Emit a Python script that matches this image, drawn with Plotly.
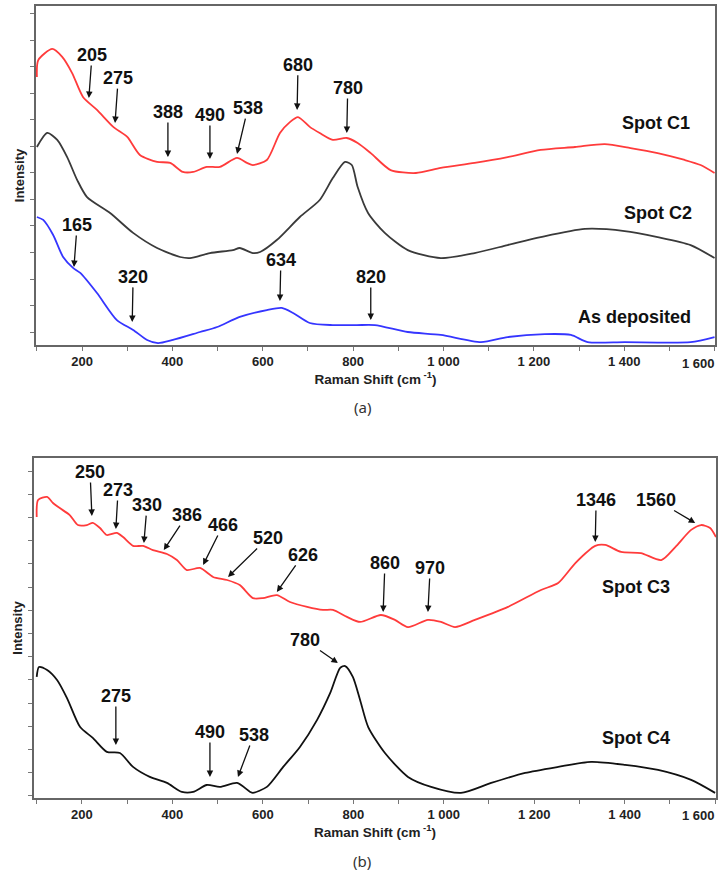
import plotly.graph_objects as go

# ---------------- Panel (a) data ----------------
c1_x = [100, 103, 134, 156, 178, 202, 233, 269, 300, 328, 366, 395, 423, 446, 476, 505, 543, 565, 578, 609,
        638, 660, 678, 704, 726, 755, 786, 810, 839, 883, 939, 994, 1069, 1142, 1215, 1291, 1357, 1414,
        1474, 1534, 1569, 1600]
c1_y = [9.62, 10.26, 10.68, 10.38, 9.77, 8.87, 8.38, 7.74, 7.36, 6.68, 6.42, 6.38, 6.04, 6.04, 6.23, 6.23,
        6.57, 6.38, 6.30, 6.49, 7.51, 7.92, 8.11, 7.74, 7.51, 7.25, 7.32, 7.13, 6.75, 6.11, 6.00, 6.19,
        6.38, 6.60, 6.87, 6.98, 7.09, 6.94, 6.75, 6.49, 6.30, 6.00]

c2_x = [100, 123, 145, 167, 189, 211, 262, 313, 366, 417, 439, 483, 534, 549, 578, 594, 631, 682, 726, 755,
        782, 797, 810, 833, 870, 921, 994, 1069, 1142, 1215, 1313, 1401, 1474, 1547, 1600]
c2_y = [6.98, 7.51, 7.25, 6.60, 5.74, 5.09, 4.49, 3.74, 3.17, 2.83, 2.79, 2.98, 3.09, 3.17, 2.98, 3.02,
        3.47, 4.34, 4.98, 5.81, 6.42, 6.30, 5.47, 4.49, 3.74, 3.09, 2.79, 2.98, 3.28, 3.58, 3.89, 3.81,
        3.58, 3.28, 2.79]

dep_x = [100, 114, 136, 158, 180, 196, 233, 277, 313, 344, 368, 401, 461, 499, 549, 609, 642, 667, 704, 755,
         808, 848, 921, 994, 1083, 1142, 1224, 1282, 1319, 1401, 1547, 1600]
dep_y = [4.34, 4.23, 3.66, 2.83, 2.42, 2.23, 1.47, 0.45, 0.08, -0.30, -0.42, -0.30, 0.00, 0.19, 0.57, 0.83,
         0.91, 0.72, 0.34, 0.26, 0.26, 0.26, 0.00, -0.11, -0.38, -0.19, -0.08, -0.11, -0.38, -0.38, -0.38,
         -0.19]

# ---------------- Panel (b) data ----------------
c3_x = [100, 103, 123, 136, 151, 173, 191, 211, 224, 240, 255, 277, 291, 313, 335, 357, 388, 410, 432, 461,
        490, 521, 549, 578, 600, 631, 660, 698, 733, 755, 786, 815, 861, 892, 921, 965, 994, 1025, 1069,
        1142, 1215, 1253, 1291, 1335, 1357, 1392, 1436, 1481, 1512, 1547, 1569, 1589, 1602]
c3_y = [12.03, 12.76, 12.89, 12.63, 12.41, 12.11, 11.68, 11.68, 11.77, 11.55, 11.25, 11.34, 11.16, 10.78,
        10.78, 10.60, 10.43, 10.17, 9.74, 9.83, 9.44, 9.31, 9.09, 8.53, 8.53, 8.66, 8.36, 8.15, 8.02, 8.02,
        7.72, 7.50, 7.80, 7.59, 7.28, 7.59, 7.50, 7.28, 7.59, 8.15, 8.88, 9.18, 10.04, 10.78, 10.82, 10.52,
        10.47, 10.17, 10.73, 11.47, 11.68, 11.55, 11.16]

c4_x = [100, 105, 123, 145, 167, 196, 224, 255, 284, 313, 350, 388, 421, 446, 476, 505, 543, 572, 578, 609,
        645, 682, 720, 749, 771, 782, 799, 815, 833, 870, 921, 972, 1038, 1105, 1180, 1253, 1326, 1401,
        1474, 1547, 1600]
c4_y = [5.13, 5.56, 5.43, 5.00, 4.22, 2.97, 2.50, 1.90, 1.85, 1.25, 0.82, 0.56, 0.17, 0.17, 0.47, 0.39, 0.56,
        0.17, 0.13, 0.39, 1.25, 2.11, 3.28, 4.44, 5.52, 5.60, 5.13, 4.14, 2.97, 1.85, 0.82, 0.39, 0.13, 0.56,
        0.99, 1.25, 1.47, 1.34, 1.12, 0.69, 0.13]

tick_vals = [200, 400, 600, 800, 1000, 1200, 1400]
tick_text = ["200", "400", "600", "800", "1 000", "1 200", "1 400"]
minor_vals = [100, 300, 500, 700, 900, 1100, 1300, 1500, 1600]
last_tick = (1600, "1 600")

# peak labels: (text, tip_x, tip_y, label_x, label_y)
peaks_a = [("205", 215, 8.83, 222, 10.45), ("275", 273, 7.89, 280, 9.58), ("388", 390, 6.60, 390, 8.30),
           ("490", 483, 6.53, 483, 8.19), ("538", 543, 6.72, 567, 8.45), ("680", 676, 8.38, 678, 10.08),
           ("780", 786, 7.51, 788, 9.21), ("165", 182, 2.45, 189, 4.04), ("320", 311, 0.38, 313, 2.08),
           ("634", 638, 1.17, 640, 2.72), ("820", 839, 0.45, 839, 2.08)]
peaks_b = [("250", 222, 12.07, 218, 13.97), ("273", 275, 11.51, 280, 13.19), ("330", 337, 10.91, 344, 12.54),
           ("386", 381, 10.60, 432, 12.11), ("466", 468, 9.96, 512, 11.68), ("520", 523, 9.44, 611, 11.12),
           ("626", 631, 8.79, 689, 10.39), ("780", 766, 5.73, 693, 6.72), ("860", 866, 7.93, 870, 10.04),
           ("970", 965, 7.93, 970, 9.83), ("1346", 1335, 10.95, 1337, 12.76), ("1560", 1556, 11.77, 1470, 12.76),
           ("275", 275, 2.20, 275, 4.31), ("490", 483, 0.82, 483, 2.76), ("538", 545, 0.82, 580, 2.63)]
names_a = [("Spot C1", 1470, 7.89), ("Spot C2", 1474, 4.49), ("As deposited", 1423, 0.57)]
names_b = [("Spot C3", 1425, 9.01), ("Spot C4", 1425, 2.50)]

RED = "#ff3b3b"
GREY = "#3a3a3a"
BLUE = "#3535ff"
LW = 1.8
LBL = dict(family="Liberation Sans, Arial", size=18, color="#111", weight="bold")

fig = go.Figure()
def line(x, y, color, xa, ya):
    fig.add_trace(go.Scatter(x=x, y=y, mode="lines", line=dict(color=color, width=LW, shape="spline",
                                                                 smoothing=0.7), xaxis=xa, yaxis=ya,
                             hoverinfo="skip"))
line(c1_x, c1_y, RED, "x", "y")
line(c2_x, c2_y, GREY, "x", "y")
line(dep_x, dep_y, BLUE, "x", "y")
line(c3_x, c3_y, RED, "x2", "y2")
line(c4_x, c4_y, "#111", "x2", "y2")

TF = dict(family="Liberation Sans, Arial", size=13, color="#222", weight="bold")

annotations = []
for peaks, xr, yr in ((peaks_a, "x", "y"), (peaks_b, "x2", "y2")):
    for t, tx, ty, lx, ly in peaks:
        annotations.append(dict(x=tx, y=ty, ax=lx, ay=ly, xref=xr, yref=yr, axref=xr, ayref=yr,
                                text="<b>" + t + "</b>", showarrow=True, arrowhead=2, arrowsize=1,
                                arrowwidth=1.3, arrowcolor="#111", font=LBL, standoff=0, borderpad=0))
for names, xr, yr in ((names_a, "x", "y"), (names_b, "x2", "y2")):
    for t, x, y in names:
        annotations.append(dict(x=x, y=y, xref=xr, yref=yr, text="<b>" + t + "</b>", showarrow=False,
                                font=LBL))
# last tick label kept inside the figure edge, as in the original
for xr, ypix in (("x", 363), ("x2", 815)):
    annotations.append(dict(x=last_tick[0], y=1 - ypix / 888, xref=xr, yref="paper", xanchor="right",
                            yanchor="middle", xshift=2, text="<b>" + last_tick[1] + "</b>", showarrow=False,
                            font=TF))
annotations.append(dict(x=362 / 718, y=1 - 407 / 888, xref="paper", yref="paper", text="(a)", showarrow=False,
                        font=dict(family="Noto Sans, DejaVu Sans", size=15, color="#333")))
annotations.append(dict(x=362 / 718, y=1 - 873 / 888, xref="paper", yref="paper", text="(b)", showarrow=False,
                        font=dict(family="Noto Sans, DejaVu Sans", size=15, color="#333")))

axis_common = dict(showline=True, linecolor="#666", linewidth=1.6, mirror=True, showgrid=False, zeroline=False,
                   ticks="outside", ticklen=4, tickcolor="#777", tickwidth=1, automargin=False)
xa = dict(axis_common, tickvals=tick_vals, ticktext=tick_text, tickfont=TF,
          minor=dict(tickvals=minor_vals, ticks="outside", ticklen=4, tickcolor="#777", tickwidth=1),
          title=dict(text="Raman Shift (cm<sup> -1</sup>)", font=dict(TF, size=13.5), standoff=2))
ya = dict(axis_common, dtick=1, tick0=0, showticklabels=False,
          title=dict(text="Intensity", font=TF, standoff=3))

fig.update_layout(
    width=718, height=888, margin=dict(l=0, r=0, t=0, b=0),
    paper_bgcolor="white", plot_bgcolor="white", showlegend=False, hovermode=False,
    xaxis=dict(xa, domain=[36 / 718, 715 / 718], range=[98, 1601], anchor="y"),
    yaxis=dict(ya, domain=[1 - 345 / 888, 1 - 6 / 888], range=[-0.49, 12.3], anchor="x"),
    xaxis2=dict(xa, domain=[34 / 718, 716 / 718], range=[94, 1602], anchor="y2"),
    yaxis2=dict(ya, domain=[1 - 798 / 888, 1 - 458 / 888], range=[-0.09, 14.57], anchor="x2"),
    annotations=annotations,
)
fig.write_html("out.html", config={"displayModeBar": False},
               post_script="document.body.style.margin='0';document.body.style.overflow='hidden';")
